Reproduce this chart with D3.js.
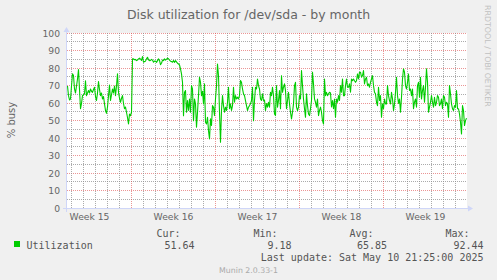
<!DOCTYPE html>
<html>
<head>
<meta charset="utf-8">
<script src="https://cdn.jsdelivr.net/npm/d3@7"></script>
<style>
  html, body { margin: 0; padding: 0; background: #f0f0f0; }
  svg { display: block; }
  text { font-family: "DejaVu Sans", sans-serif; }
  .mono { font-family: "DejaVu Sans Mono", monospace; }
</style>
</head>
<body>
<div id="chart"></div>
<script>
// rentang grafik: 400 titik, tiap titik 2 jam
const PERIOD_START = Date.UTC(2025, 3, 8, 15, 0);
const STEP_HOURS = 2;

// % busy per 2 jam (kiri ke kanan)
const utilization = [
  70, 64.5, 62, 62.6, 70, 77, 76, 68.3, 66, 70, 74, 79.4, 68, 57, 60, 64.5, 65, 65.5, 73, 64.5,
  66, 67.4, 66, 68.3, 67, 66.4, 68, 69.3, 64, 61.7, 66, 72.5, 68, 64.5, 66, 62.6, 64, 59.8, 56, 54.4,
  58, 64.5, 70.6, 61.7, 65, 68.3, 66, 70, 64.5, 70, 77, 66.4, 63, 60.7, 63, 64.5, 60, 57, 58, 55,
  52, 48.3, 54, 53, 55, 85.5,
  85.5, 85, 85.2, 84.5, 84.8, 85.5, 85.9, 85.4, 84.6, 86.8, 83.6, 84, 84.2, 85.5, 86.4, 85, 84.5, 84.6, 85.2, 84.8,
  83.6, 84.2, 84.3, 83.5, 84.5, 85.5, 84.6, 82.2, 83, 84.8, 84.5, 85.5, 84.8, 85.2, 85.9, 85.6, 84.8, 84.2, 84, 83.6,
  84.6, 83.5, 84.5, 83.8, 83, 82.6,
  82, 79.8, 76.9, 72.1, 53, 66.4, 67.4, 55, 61.7, 56, 62.6, 55, 70.2, 68.3, 50.2, 62.6, 59.8, 46.4, 55, 64.5, 75,
  72.1, 64.5, 67, 59.8, 71.2, 49.3, 48.3, 52.1, 44.5, 39.8, 51.2, 47.4, 58.8, 57.9, 53.1, 62.6, 70.2, 82.6, 75.9, 55,
  37.9, 56, 64.5, 58.8, 55, 57.9, 56, 60.7, 69.3, 57, 59.8, 56, 58.8, 69.3, 60.7, 64.5, 62.6, 63.6, 62.6, 64.5,
  73.1, 72.1, 68.3, 65.5, 64.5, 61.7, 58.8, 56, 57.9, 58.8, 59.8, 61.7, 69.3, 50.2, 61.7, 69.3, 68.3, 74, 70.2, 68.3,
  62.6, 61.7, 65.5, 61.7, 62, 56, 60,
  57.9, 60.7, 57.9, 66.4, 64.5, 69.3, 64.5, 54, 53.1, 70.2, 57.9, 61.7, 67.4, 57, 75.9, 66.4, 69.3, 71.2, 67.4, 57,
  61.7, 66.4, 59.8, 55, 51.2, 55, 59.8, 70.2, 72.1, 57.9, 56, 57.9, 64.5, 62.6, 78.8, 70.2, 62.6, 57, 52.1, 65.5,
  58.8, 54, 53.1, 57, 61.7, 77.9, 71.2, 62.6, 60.7, 57.9, 62.6, 53.1, 56, 57.9, 55, 50.2, 48.3, 74, 64.5, 66.4,
  64.5, 65.5, 66.4,
  66, 58, 61.7,
  57, 62.6, 52.1, 62.6, 60.7, 64.5, 61.7, 70.2, 66.4, 74, 64.5, 64.5, 70.2, 74, 69.3, 69.3, 71.2, 66.4, 74, 73,
  74, 73, 72.1, 73, 76.9, 74, 77.9, 77.9, 75, 76, 78.8, 71.2, 74, 75, 70.2, 71.2, 69.3, 72.1, 74, 75.9,
  70.2, 66.4, 65.5, 60.7, 58.8, 69.3, 61.7, 64.5, 52.1, 59.8, 57, 62.6, 59.8, 59.8, 70.2, 64.5, 61.7, 59.8, 66.4, 62.6,
  56, 59.8, 66.4, 75, 64.5, 60,
  62.6, 55, 63.6, 74, 79.8, 77.9, 70.2, 68.3, 72.1, 76.9, 67.4, 68.3, 64.5, 68.3, 57, 60.7, 62.6, 57.9, 70.2, 72.1,
  63.6, 75, 62.6, 67.4, 70.2, 60.7, 69.3, 79.8, 72.1, 55, 57.9, 60.7, 64.5, 60.7, 57.9, 63.6, 58.8, 60.7, 64.5, 63.6,
  58.8, 59.8, 62.6, 57, 64.5, 63.6, 58.8, 60.7, 59.8, 52.1, 70.2, 65.5, 59.8, 57, 56, 58.8, 57.9, 67.4, 57, 57,
  54, 49.3, 42.6, 58.8, 56, 47.4, 50.2, 51.64
];

const yTicks = [0, 10, 20, 30, 40, 50, 60, 70, 80, 90, 100];
const yMinorTicks = [5, 15, 25, 35, 45, 55, 65, 75, 85, 95];

const statLabels = ["Cur:", "Min:", "Avg:", "Max:"];
const statValues = ["51.64", "9.18", "65.85", "92.44"];
const lastUpdate = "Last update: Sat May 10 21:25:00 2025";

const W = 497, H = 280;
const plot = { left: 67, top: 33, width: 400, height: 175 };

const svg = d3.select("#chart").append("svg")
  .attr("width", W)
  .attr("height", H);

svg.append("rect").attr("width", W).attr("height", H).attr("fill", "#f0f0f0");
svg.append("rect")
  .attr("x", plot.left).attr("y", plot.top)
  .attr("width", plot.width).attr("height", plot.height)
  .attr("fill", "#ffffff");

const t0 = new Date(PERIOD_START);
const t1 = new Date(PERIOD_START + utilization.length * STEP_HOURS * 3600e3);

const x = d3.scaleUtc().domain([t0, t1]).range([plot.left, plot.left + plot.width]);
const y = d3.scaleLinear().domain([0, 100]).range([plot.top + plot.height, plot.top]);

const crisp = v => Math.floor(v) + 0.5;
const minorColor = "rgba(143,143,143,0.75)";
const majorColor = "rgba(222,79,79,0.6)";

// grid horizontal
const grid = svg.append("g").attr("shape-rendering", "crispEdges");
grid.selectAll(".hminor").data(yMinorTicks).enter().append("line")
  .attr("x1", plot.left).attr("x2", plot.left + plot.width)
  .attr("y1", d => crisp(y(d))).attr("y2", d => crisp(y(d)))
  .attr("stroke", minorColor).attr("stroke-dasharray", "1,1");
grid.selectAll(".hmajor").data(yTicks.filter(d => d > 0)).enter().append("line")
  .attr("x1", plot.left).attr("x2", plot.left + plot.width)
  .attr("y1", d => crisp(y(d))).attr("y2", d => crisp(y(d)))
  .attr("stroke", majorColor).attr("stroke-dasharray", "1,1");

// grid vertikal: harian (minor) dan mingguan (major)
const mondays = d3.utcMonday.range(t0, t1);
const days = d3.utcDay.range(t0, t1).filter(d => d.getUTCDay() !== 1);
grid.selectAll(".vminor").data(days).enter().append("line")
  .attr("x1", d => crisp(x(d))).attr("x2", d => crisp(x(d)))
  .attr("y1", plot.top).attr("y2", plot.top + plot.height)
  .attr("stroke", minorColor).attr("stroke-dasharray", "1,1");
grid.selectAll(".vmajor").data(mondays).enter().append("line")
  .attr("x1", d => crisp(x(d))).attr("x2", d => crisp(x(d)))
  .attr("y1", plot.top).attr("y2", plot.top + plot.height)
  .attr("stroke", majorColor).attr("stroke-dasharray", "1,1");

// label sumbu Y
svg.append("g").selectAll("text").data(yTicks).enter().append("text")
  .attr("x", 60)
  .attr("y", d => crisp(y(d)))
  .attr("dy", "0.35em")
  .attr("text-anchor", "end")
  .attr("font-size", "9.2px")
  .attr("fill", "#666")
  .text(d => d);

// label minggu
const weekFmt = d3.utcFormat("%V");
const weekStarts = [d3.utcMonday.offset(d3.utcMonday.floor(t0), 0)].concat(mondays);
svg.append("g").selectAll("text")
  .data(weekStarts.map(d => ({ mid: new Date(+d + 3.5 * 864e5), week: weekFmt(d) }))
    .filter(d => d.mid > t0 && d.mid < t1))
  .enter().append("text")
  .attr("x", d => x(d.mid))
  .attr("y", 220)
  .attr("text-anchor", "middle")
  .attr("font-size", "9.2px")
  .attr("fill", "#666")
  .text(d => "Week " + +d.week);

// sumbu + panah
const axisColor = "#cfd6f8";
const ax = svg.append("g").attr("shape-rendering", "crispEdges");
ax.append("line")
  .attr("x1", plot.left - 4).attr("x2", plot.left + plot.width + 4)
  .attr("y1", crisp(y(0))).attr("y2", crisp(y(0)))
  .attr("stroke", axisColor);
ax.append("line")
  .attr("x1", plot.left - 0.5).attr("x2", plot.left - 0.5)
  .attr("y1", y(0) + 4).attr("y2", y(100) - 4)
  .attr("stroke", axisColor);
svg.append("path")
  .attr("d", `M${plot.left + plot.width + 1},${y(0) - 2.5} L${plot.left + plot.width + 1},${y(0) + 3.5} L${plot.left + plot.width + 6},${y(0) + 0.5} Z`)
  .attr("fill", axisColor);
svg.append("path")
  .attr("d", `M${plot.left - 3.5},${y(100) - 1} L${plot.left + 2.5},${y(100) - 1} L${plot.left - 0.5},${y(100) - 6} Z`)
  .attr("fill", axisColor);

// garis data
const line = d3.line()
  .x((d, i) => x(new Date(PERIOD_START + (i + 0.5) * STEP_HOURS * 3600e3)))
  .y(d => y(d) + 0.5);
svg.append("path")
  .datum(utilization)
  .attr("d", line)
  .attr("fill", "none")
  .attr("stroke", "#00cc00")
  .attr("stroke-width", 1.1)
  .attr("stroke-linejoin", "round");

// judul
svg.append("text")
  .attr("x", 248.5).attr("y", 18.5)
  .attr("text-anchor", "middle")
  .attr("font-size", "12.5px")
  .attr("fill", "#666")
  .text("Disk utilization for /dev/sda - by month");

// label sumbu Y
svg.append("text")
  .attr("transform", "translate(15,120) rotate(-90)")
  .attr("text-anchor", "middle")
  .attr("font-size", "10px")
  .attr("fill", "#666")
  .text("% busy");

// watermark
svg.append("text")
  .attr("transform", "translate(485,5) rotate(90)")
  .attr("font-size", "7.9px")
  .attr("fill", "#c0c0c0")
  .text("RRDTOOL / TOBI OETIKER");

// legenda
const legend = svg.append("g").attr("class", "mono").attr("font-size", "10px").attr("fill", "#555");
legend.append("rect")
  .attr("x", 14).attr("y", 241).attr("width", 6).attr("height", 6)
  .attr("fill", "#00cc00");
legend.append("text").attr("class", "mono").attr("x", 26.5).attr("y", 248.5).text("Utilization");

const labelRight = [180.5, 277.5, 373.5, 469.5];
const valueRight = [194.5, 291.5, 387, 483.5];
legend.selectAll(".hdr").data(statLabels).enter().append("text")
  .attr("class", "mono")
  .attr("x", (d, i) => labelRight[i]).attr("y", 236.5)
  .attr("text-anchor", "end")
  .text(d => d);
legend.selectAll(".val").data(statValues).enter().append("text")
  .attr("class", "mono")
  .attr("x", (d, i) => valueRight[i]).attr("y", 248.5)
  .attr("text-anchor", "end")
  .text(d => d);
legend.append("text").attr("class", "mono")
  .attr("x", 483.5).attr("y", 260.5)
  .attr("text-anchor", "end")
  .text(lastUpdate);

svg.append("text")
  .attr("x", 248.5).attr("y", 272.5)
  .attr("text-anchor", "middle")
  .attr("font-size", "7.8px")
  .attr("fill", "#aaa")
  .text("Munin 2.0.33-1");
</script>
</body>
</html>
